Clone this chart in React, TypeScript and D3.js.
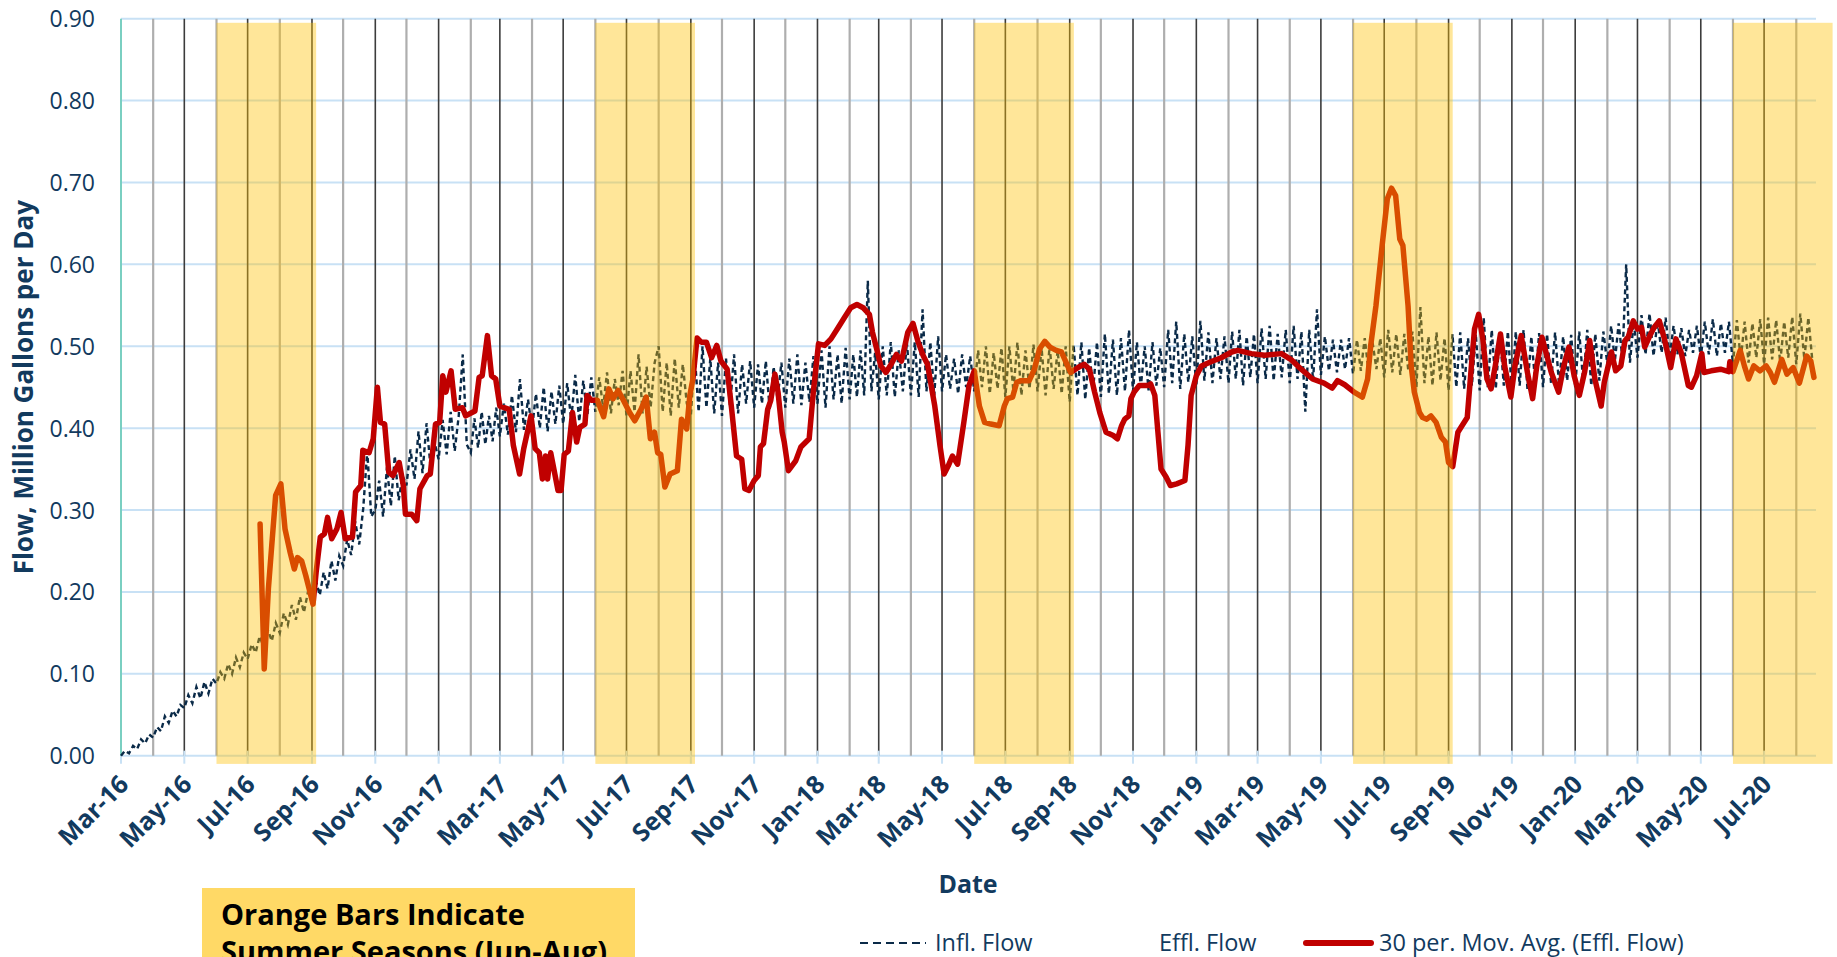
import React, { useEffect, useRef } from 'react';
import * as d3 from 'd3';

const width = 1837;
const height = 957;

const yTicks = [0, 0.1, 0.2, 0.3, 0.4, 0.5, 0.6, 0.7, 0.8, 0.9];

const xTickLabels = [
    'Mar-16', 'May-16', 'Jul-16', 'Sep-16', 'Nov-16', 'Jan-17', 'Mar-17', 'May-17', 'Jul-17',
    'Sep-17', 'Nov-17', 'Jan-18', 'Mar-18', 'May-18', 'Jul-18', 'Sep-18', 'Nov-18', 'Jan-19',
    'Mar-19', 'May-19', 'Jul-19', 'Sep-19', 'Nov-19', 'Jan-20', 'Mar-20', 'May-20', 'Jul-20',
];

// summer seasons (Jun-Aug) drawn as orange columns
const summerStarts = ['2016-06-01', '2017-06-01', '2018-06-01', '2019-06-01', '2020-06-01'];
const summerEnds = ['2016-09-05', '2017-09-05', '2018-09-05', '2019-09-05', '2020-09-05'];
const summerTop = 0.895;
const summerBottom = -0.01;

// Infl. Flow, 8 readings per month
const inflow2016 = [
    0.000, 0.006, 0.003, 0.012, 0.008, 0.020, 0.015, 0.026,
    0.022, 0.035, 0.030, 0.048, 0.040, 0.055, 0.048, 0.062,
    0.058, 0.074, 0.064, 0.084, 0.070, 0.090, 0.076, 0.094,
    0.088, 0.102, 0.094, 0.112, 0.100, 0.120, 0.108, 0.126,
    0.118, 0.136, 0.126, 0.146, 0.132, 0.154, 0.140, 0.162,
    0.150, 0.174, 0.160, 0.184, 0.166, 0.194, 0.175, 0.200,
    0.188, 0.214, 0.196, 0.224, 0.204, 0.238, 0.214, 0.244,
    0.232, 0.264, 0.245, 0.286, 0.258, 0.302, 0.372, 0.292,
    0.300, 0.336, 0.292, 0.352, 0.305, 0.366, 0.312, 0.342,
    0.330, 0.374, 0.338, 0.396, 0.345, 0.406, 0.352, 0.382,
];
const inflow2017 = [
    0.362, 0.410, 0.368, 0.420, 0.372, 0.415, 0.490, 0.380,
    0.370, 0.412, 0.376, 0.420, 0.380, 0.415, 0.384, 0.425,
    0.390, 0.430, 0.392, 0.440, 0.395, 0.460, 0.398, 0.435,
    0.398, 0.442, 0.400, 0.450, 0.396, 0.445, 0.405, 0.452,
    0.405, 0.455, 0.410, 0.465, 0.408, 0.458, 0.415, 0.462,
    0.420, 0.462, 0.425, 0.468, 0.418, 0.460, 0.428, 0.470,
    0.415, 0.470, 0.420, 0.490, 0.418, 0.475, 0.425, 0.480,
    0.500, 0.420, 0.480, 0.415, 0.485, 0.425, 0.478, 0.430,
    0.415, 0.490, 0.420, 0.500, 0.425, 0.485, 0.418, 0.480,
    0.415, 0.485, 0.425, 0.490, 0.418, 0.478, 0.430, 0.482,
    0.425, 0.478, 0.430, 0.482, 0.422, 0.475, 0.435, 0.480,
    0.425, 0.485, 0.430, 0.490, 0.428, 0.480, 0.432, 0.488,
];
const inflow2018 = [
    0.430, 0.495, 0.425, 0.500, 0.435, 0.490, 0.430, 0.498,
    0.435, 0.490, 0.438, 0.495, 0.440, 0.580, 0.445, 0.492,
    0.435, 0.500, 0.440, 0.505, 0.438, 0.495, 0.445, 0.505,
    0.440, 0.505, 0.438, 0.545, 0.445, 0.505, 0.440, 0.512,
    0.445, 0.490, 0.448, 0.485, 0.442, 0.490, 0.450, 0.488,
    0.445, 0.495, 0.450, 0.500, 0.442, 0.492, 0.448, 0.498,
    0.438, 0.500, 0.445, 0.505, 0.440, 0.495, 0.448, 0.502,
    0.445, 0.498, 0.440, 0.500, 0.448, 0.495, 0.442, 0.500,
    0.432, 0.502, 0.440, 0.505, 0.435, 0.498, 0.445, 0.505,
    0.438, 0.515, 0.442, 0.508, 0.440, 0.510, 0.445, 0.520,
    0.445, 0.505, 0.450, 0.500, 0.446, 0.505, 0.452, 0.498,
    0.450, 0.520, 0.455, 0.530, 0.448, 0.515, 0.456, 0.512,
];
const inflow2019 = [
    0.452, 0.531, 0.458, 0.517, 0.455, 0.510, 0.460, 0.512,
    0.455, 0.518, 0.460, 0.520, 0.452, 0.512, 0.462, 0.515,
    0.455, 0.522, 0.460, 0.525, 0.458, 0.515, 0.462, 0.520,
    0.455, 0.525, 0.460, 0.518, 0.420, 0.520, 0.458, 0.545,
    0.465, 0.512, 0.470, 0.508, 0.468, 0.508, 0.472, 0.510,
    0.466, 0.508, 0.470, 0.510, 0.468, 0.505, 0.472, 0.510,
    0.462, 0.520, 0.468, 0.515, 0.465, 0.515, 0.470, 0.518,
    0.450, 0.548, 0.455, 0.512, 0.452, 0.517, 0.458, 0.510,
    0.446, 0.515, 0.450, 0.517, 0.448, 0.510, 0.452, 0.515,
    0.446, 0.535, 0.450, 0.520, 0.448, 0.515, 0.452, 0.518,
    0.446, 0.518, 0.452, 0.520, 0.448, 0.512, 0.455, 0.516,
    0.450, 0.515, 0.455, 0.517, 0.452, 0.512, 0.458, 0.514,
];
const inflow2020 = [
    0.450, 0.518, 0.456, 0.520, 0.452, 0.515, 0.458, 0.518,
    0.478, 0.525, 0.482, 0.528, 0.485, 0.600, 0.480, 0.530,
    0.486, 0.538, 0.490, 0.540, 0.488, 0.532, 0.492, 0.535,
    0.486, 0.525, 0.490, 0.522, 0.488, 0.520, 0.492, 0.525,
    0.486, 0.530, 0.490, 0.533, 0.488, 0.528, 0.492, 0.530,
    0.478, 0.532, 0.484, 0.530, 0.480, 0.528, 0.486, 0.533,
    0.478, 0.535, 0.484, 0.532, 0.480, 0.530, 0.486, 0.536,
    0.478, 0.540, 0.484, 0.535, 0.482,
];

// 30 per. Mov. Avg. (Effl. Flow)
const movingAvg: [string, number][] = [
    ['2016-07-13', 0.283], ['2016-07-17', 0.106], ['2016-07-21', 0.204], ['2016-07-28', 0.318],
    ['2016-08-02', 0.332], ['2016-08-06', 0.277], ['2016-08-11', 0.248], ['2016-08-15', 0.228],
    ['2016-08-18', 0.242], ['2016-08-22', 0.238], ['2016-08-26', 0.220], ['2016-08-30', 0.200],
    ['2016-09-02', 0.185], ['2016-09-05', 0.224], ['2016-09-09', 0.267], ['2016-09-13', 0.271],
    ['2016-09-16', 0.291], ['2016-09-20', 0.265], ['2016-09-25', 0.277], ['2016-09-29', 0.297],
    ['2016-10-03', 0.265], ['2016-10-10', 0.267], ['2016-10-13', 0.322], ['2016-10-18', 0.330],
    ['2016-10-20', 0.373], ['2016-10-26', 0.370], ['2016-10-30', 0.387], ['2016-11-03', 0.450],
    ['2016-11-06', 0.407], ['2016-11-10', 0.405], ['2016-11-14', 0.346], ['2016-11-18', 0.342],
    ['2016-11-24', 0.358], ['2016-11-28', 0.330], ['2016-11-30', 0.295], ['2016-12-06', 0.295],
    ['2016-12-11', 0.287], ['2016-12-14', 0.326], ['2016-12-21', 0.342], ['2016-12-24', 0.344],
    ['2016-12-29', 0.405], ['2017-01-02', 0.407], ['2017-01-05', 0.464], ['2017-01-08', 0.444],
    ['2017-01-13', 0.470], ['2017-01-17', 0.423], ['2017-01-24', 0.425], ['2017-01-27', 0.415],
    ['2017-02-05', 0.421], ['2017-02-09', 0.462], ['2017-02-12', 0.464], ['2017-02-17', 0.513],
    ['2017-02-21', 0.464], ['2017-02-25', 0.460], ['2017-03-01', 0.427], ['2017-03-10', 0.423],
    ['2017-03-14', 0.379], ['2017-03-20', 0.344], ['2017-03-24', 0.375], ['2017-03-31', 0.415],
    ['2017-04-04', 0.375], ['2017-04-08', 0.370], ['2017-04-11', 0.338], ['2017-04-14', 0.366],
    ['2017-04-16', 0.338], ['2017-04-19', 0.370], ['2017-04-26', 0.324], ['2017-04-29', 0.324],
    ['2017-05-02', 0.368], ['2017-05-06', 0.372], ['2017-05-10', 0.419], ['2017-05-14', 0.383],
    ['2017-05-17', 0.401], ['2017-05-22', 0.405], ['2017-05-24', 0.440], ['2017-05-28', 0.434],
    ['2017-06-03', 0.434], ['2017-06-09', 0.414], ['2017-06-14', 0.448], ['2017-06-18', 0.436],
    ['2017-06-23', 0.446], ['2017-06-28', 0.434], ['2017-07-04', 0.419], ['2017-07-09', 0.409],
    ['2017-07-15', 0.423], ['2017-07-20', 0.438], ['2017-07-24', 0.387], ['2017-07-28', 0.395],
    ['2017-07-31', 0.370], ['2017-08-03', 0.368], ['2017-08-07', 0.328], ['2017-08-12', 0.344],
    ['2017-08-19', 0.348], ['2017-08-23', 0.411], ['2017-08-28', 0.399], ['2017-08-31', 0.440],
    ['2017-09-03', 0.460], ['2017-09-07', 0.510], ['2017-09-11', 0.505], ['2017-09-16', 0.505],
    ['2017-09-21', 0.486], ['2017-09-26', 0.501], ['2017-09-30', 0.482], ['2017-10-06', 0.472],
    ['2017-10-10', 0.427], ['2017-10-15', 0.366], ['2017-10-20', 0.362], ['2017-10-23', 0.326],
    ['2017-10-27', 0.324], ['2017-11-01', 0.336], ['2017-11-05', 0.342], ['2017-11-07', 0.377],
    ['2017-11-10', 0.381], ['2017-11-14', 0.423], ['2017-11-17', 0.434], ['2017-11-21', 0.466],
    ['2017-11-24', 0.444], ['2017-11-28', 0.395], ['2017-11-30', 0.383], ['2017-12-04', 0.348],
    ['2017-12-11', 0.360], ['2017-12-16', 0.377], ['2017-12-24', 0.387], ['2017-12-28', 0.444],
    ['2018-01-02', 0.503], ['2018-01-08', 0.501], ['2018-01-14', 0.509], ['2018-01-21', 0.523],
    ['2018-01-27', 0.535], ['2018-02-02', 0.547], ['2018-02-08', 0.551], ['2018-02-14', 0.547],
    ['2018-02-20', 0.539], ['2018-02-23', 0.517], ['2018-02-27', 0.497], ['2018-03-03', 0.476],
    ['2018-03-08', 0.468], ['2018-03-13', 0.478], ['2018-03-18', 0.490], ['2018-03-23', 0.482],
    ['2018-03-29', 0.517], ['2018-04-03', 0.528], ['2018-04-08', 0.505], ['2018-04-13', 0.488],
    ['2018-04-17', 0.478], ['2018-04-24', 0.427], ['2018-04-29', 0.379], ['2018-05-03', 0.344],
    ['2018-05-07', 0.354], ['2018-05-11', 0.366], ['2018-05-16', 0.356], ['2018-05-22', 0.407],
    ['2018-05-27', 0.452], ['2018-06-01', 0.470], ['2018-06-06', 0.427], ['2018-06-11', 0.407],
    ['2018-06-17', 0.405], ['2018-06-25', 0.403], ['2018-06-30', 0.427], ['2018-07-03', 0.436],
    ['2018-07-08', 0.438], ['2018-07-12', 0.456], ['2018-07-16', 0.458], ['2018-07-24', 0.458],
    ['2018-07-29', 0.472], ['2018-08-03', 0.497], ['2018-08-08', 0.506], ['2018-08-13', 0.499],
    ['2018-08-19', 0.495], ['2018-08-24', 0.493], ['2018-08-30', 0.476], ['2018-09-02', 0.468],
    ['2018-09-09', 0.474], ['2018-09-15', 0.478], ['2018-09-20', 0.472], ['2018-09-25', 0.444],
    ['2018-09-30', 0.419], ['2018-10-06', 0.395], ['2018-10-13', 0.391], ['2018-10-17', 0.387],
    ['2018-10-21', 0.403], ['2018-10-24', 0.411], ['2018-10-28', 0.415], ['2018-10-30', 0.436],
    ['2018-11-02', 0.444], ['2018-11-07', 0.452], ['2018-11-15', 0.452], ['2018-11-18', 0.454],
    ['2018-11-22', 0.440], ['2018-11-25', 0.395], ['2018-11-28', 0.350], ['2018-12-03', 0.340],
    ['2018-12-07', 0.330], ['2018-12-13', 0.332], ['2018-12-21', 0.336], ['2018-12-24', 0.379],
    ['2018-12-27', 0.440], ['2019-01-01', 0.464], ['2019-01-06', 0.476], ['2019-01-15', 0.481],
    ['2019-01-25', 0.486], ['2019-02-04', 0.493], ['2019-02-10', 0.495], ['2019-02-23', 0.491],
    ['2019-03-08', 0.489], ['2019-03-24', 0.491], ['2019-04-02', 0.484], ['2019-04-12', 0.472],
    ['2019-04-23', 0.460], ['2019-05-04', 0.455], ['2019-05-12', 0.449], ['2019-05-17', 0.458],
    ['2019-05-24', 0.453], ['2019-06-02', 0.444], ['2019-06-10', 0.438], ['2019-06-15', 0.460],
    ['2019-06-18', 0.501], ['2019-06-23', 0.549], ['2019-06-29', 0.623], ['2019-07-04', 0.680],
    ['2019-07-08', 0.693], ['2019-07-12', 0.684], ['2019-07-16', 0.631], ['2019-07-19', 0.623],
    ['2019-07-24', 0.549], ['2019-07-27', 0.476], ['2019-07-30', 0.444], ['2019-08-04', 0.419],
    ['2019-08-07', 0.413], ['2019-08-11', 0.411], ['2019-08-15', 0.415], ['2019-08-20', 0.407],
    ['2019-08-25', 0.389], ['2019-08-29', 0.383], ['2019-09-01', 0.358], ['2019-09-05', 0.353],
    ['2019-09-10', 0.395], ['2019-09-15', 0.405], ['2019-09-19', 0.413], ['2019-09-23', 0.476],
    ['2019-09-26', 0.521], ['2019-09-30', 0.539], ['2019-10-04', 0.509], ['2019-10-08', 0.460],
    ['2019-10-12', 0.448], ['2019-10-16', 0.476], ['2019-10-21', 0.515], ['2019-10-25', 0.476],
    ['2019-10-31', 0.438], ['2019-11-04', 0.476], ['2019-11-10', 0.513], ['2019-11-16', 0.468],
    ['2019-11-21', 0.436], ['2019-11-25', 0.476], ['2019-11-30', 0.511], ['2019-12-09', 0.468],
    ['2019-12-16', 0.444], ['2019-12-21', 0.476], ['2019-12-26', 0.499], ['2019-12-31', 0.464],
    ['2020-01-05', 0.440], ['2020-01-10', 0.468], ['2020-01-15', 0.507], ['2020-01-20', 0.460],
    ['2020-01-26', 0.427], ['2020-01-29', 0.456], ['2020-02-05', 0.493], ['2020-02-09', 0.470],
    ['2020-02-14', 0.476], ['2020-02-18', 0.507], ['2020-02-21', 0.511], ['2020-02-26', 0.531],
    ['2020-03-01', 0.521], ['2020-03-05', 0.523], ['2020-03-08', 0.499], ['2020-03-13', 0.513],
    ['2020-03-17', 0.523], ['2020-03-22', 0.531], ['2020-03-27', 0.509], ['2020-04-02', 0.474],
    ['2020-04-07', 0.509], ['2020-04-12', 0.493], ['2020-04-19', 0.452], ['2020-04-22', 0.450],
    ['2020-04-27', 0.464], ['2020-05-02', 0.491], ['2020-05-04', 0.468], ['2020-05-11', 0.470],
    ['2020-05-20', 0.472], ['2020-05-28', 0.469], ['2020-05-29', 0.481], ['2020-06-01', 0.469],
    ['2020-06-08', 0.495], ['2020-06-12', 0.476], ['2020-06-16', 0.460], ['2020-06-21', 0.476],
    ['2020-06-27', 0.470], ['2020-07-03', 0.476], ['2020-07-07', 0.468], ['2020-07-11', 0.456],
    ['2020-07-18', 0.484], ['2020-07-23', 0.466], ['2020-07-29', 0.474], ['2020-08-04', 0.455],
    ['2020-08-11', 0.488], ['2020-08-15', 0.482], ['2020-08-18', 0.462],
];

const parseDay = d3.timeParse('%Y-%m-%d');
const parseMonth = d3.timeParse('%b-%y');

function monthly(year: number, firstMonth: number, values: number[]) {
    return values.map((v, i) => {
        const m = firstMonth + Math.floor(i / 8);
        const start = new Date(year, m, 1).getTime();
        const end = new Date(year, m + 1, 1).getTime();
        return { date: new Date(start + ((end - start) * (i % 8)) / 8), value: v };
    });
}

const font = "'Open Sans', 'DejaVu Sans', sans-serif";
const navy = '#123A5E';

function FlowChart() {
    const ref = useRef<SVGSVGElement>(null);

    useEffect(() => {
        drawChart();
    }, []);

    function drawChart() {
        const svg = d3.select(ref.current);
        svg.selectAll('*').remove();

        const x = d3
            .scaleTime()
            .domain([parseDay('2016-03-01')!, parseDay('2020-08-20')!])
            .range([121, 1816]);
        const y = d3.scaleLinear().domain([0, 0.9]).range([755.7, 18.7]);
        const [x0, x1] = x.range();

        // horizontal gridlines
        svg.append('g')
            .selectAll('line')
            .data(yTicks)
            .enter()
            .append('line')
            .attr('x1', x0)
            .attr('x2', x1)
            .attr('y1', (d) => y(d))
            .attr('y2', (d) => y(d))
            .style('stroke', '#C8E1F5')
            .style('stroke-width', 2);

        // monthly vertical lines, dark on labelled months
        const months = d3.timeMonths(new Date(2016, 3, 1), new Date(2020, 7, 2));
        svg.append('g')
            .selectAll('line')
            .data(months)
            .enter()
            .append('line')
            .attr('x1', (d) => x(d))
            .attr('x2', (d) => x(d))
            .attr('y1', y(0.9))
            .attr('y2', y(0))
            .style('stroke', (d) => (d.getMonth() % 2 === 0 ? '#3C3C3C' : '#AEAEAE'))
            .style('stroke-width', (d) => (d.getMonth() % 2 === 0 ? 1.6 : 2.2));

        // x tick marks
        const tickDates = xTickLabels.map((s) => parseMonth(s)!);
        svg.append('g')
            .selectAll('line')
            .data(tickDates)
            .enter()
            .append('line')
            .attr('x1', (d) => x(d))
            .attr('x2', (d) => x(d))
            .attr('y1', y(0) - 5)
            .attr('y2', y(0) + 8)
            .style('stroke', '#C8E1F5')
            .style('stroke-width', 2);

        // y axis line
        svg.append('line')
            .attr('x1', x0)
            .attr('x2', x0)
            .attr('y1', y(0.9))
            .attr('y2', y(0))
            .style('stroke', '#7ACFC1')
            .style('stroke-width', 2);

        // Infl. Flow
        const inflow = [
            ...monthly(2016, 2, inflow2016),
            ...monthly(2017, 0, inflow2017),
            ...monthly(2018, 0, inflow2018),
            ...monthly(2019, 0, inflow2019),
            ...monthly(2020, 0, inflow2020),
        ];
        const line = d3
            .line<{ date: Date; value: number }>()
            .x((d) => x(d.date))
            .y((d) => y(d.value));

        svg.append('path')
            .attr('d', line(inflow))
            .style('fill', 'none')
            .style('stroke', '#0A2A48')
            .style('stroke-width', 2.4)
            .style('stroke-dasharray', '5,3.5');

        // moving average
        const ma = movingAvg.map(([d, v]) => ({ date: parseDay(d)!, value: v }));
        svg.append('path')
            .attr('d', line(ma))
            .style('fill', 'none')
            .style('stroke', '#C00000')
            .style('stroke-width', 5.5)
            .style('stroke-linejoin', 'round')
            .style('stroke-linecap', 'round');

        // summer columns on top, translucent
        svg.append('g')
            .selectAll('rect')
            .data(summerStarts)
            .enter()
            .append('rect')
            .attr('x', (d) => x(parseDay(d)!))
            .attr('width', (d, i) => x(parseDay(summerEnds[i])!) - x(parseDay(d)!))
            .attr('y', y(summerTop))
            .attr('height', y(summerBottom) - y(summerTop))
            .style('fill', '#FFC000')
            .style('opacity', 0.4);

        // y tick labels
        svg.append('g')
            .selectAll('text')
            .data(yTicks)
            .enter()
            .append('text')
            .attr('x', 95)
            .attr('y', (d) => y(d) + 8.5)
            .attr('text-anchor', 'end')
            .style('font-family', font)
            .style('font-size', '23px')
            .style('fill', navy)
            .text((d) => d.toFixed(2));

        // x tick labels
        svg.append('g')
            .selectAll('text')
            .data(tickDates)
            .enter()
            .append('text')
            .attr('text-anchor', 'end')
            .attr('transform', (d) => `translate(${x(d) + 9}, 786)rotate(-45)`)
            .style('font-family', font)
            .style('font-size', '25px')
            .style('font-weight', 'bold')
            .style('fill', navy)
            .text((_, i) => xTickLabels[i]);

        // axis titles
        svg.append('text')
            .attr('transform', `translate(33, ${(y(0) + y(0.9)) / 2})rotate(-90)`)
            .attr('text-anchor', 'middle')
            .style('font-family', font)
            .style('font-size', '26px')
            .style('font-weight', 'bold')
            .style('fill', navy)
            .text('Flow, Million Gallons per Day');

        svg.append('text')
            .attr('x', 968)
            .attr('y', 893)
            .attr('text-anchor', 'middle')
            .style('font-family', font)
            .style('font-size', '25px')
            .style('font-weight', 'bold')
            .style('fill', navy)
            .text('Date');

        // note box (cut by the bottom edge, as in the source)
        svg.append('rect')
            .attr('x', 202)
            .attr('y', 888)
            .attr('width', 433)
            .attr('height', 80)
            .style('fill', '#FFD966');
        const note = svg.append('text')
            .style('font-family', font)
            .style('font-size', '29px')
            .style('font-weight', 'bold')
            .style('fill', '#000000');
        note.append('tspan').attr('x', 221).attr('y', 925).text('Orange Bars Indicate');
        note.append('tspan').attr('x', 221).attr('y', 962).text('Summer Seasons (Jun-Aug)');

        // legend
        const legend = svg.append('g').style('font-family', font).style('font-size', '23.5px');
        legend.append('line')
            .attr('x1', 860).attr('x2', 926).attr('y1', 943).attr('y2', 943)
            .style('stroke', '#0A2A48').style('stroke-width', 2).style('stroke-dasharray', '8,5');
        legend.append('text').attr('x', 935).attr('y', 951).style('fill', navy).text('Infl. Flow');
        legend.append('text').attr('x', 1159).attr('y', 951).style('fill', navy).text('Effl. Flow');
        legend.append('line')
            .attr('x1', 1306).attr('x2', 1371).attr('y1', 943).attr('y2', 943)
            .style('stroke', '#C00000').style('stroke-width', 6).style('stroke-linecap', 'round');
        legend.append('text').attr('x', 1379).attr('y', 951).style('fill', navy)
            .text('30 per. Mov. Avg. (Effl. Flow)');
    }

    return (
        <svg
            ref={ref}
            width={width}
            height={height}
            style={{ position: 'absolute', left: 0, top: 0, background: '#ffffff' }}
        />
    );
}

export default function App() {
    return <FlowChart />;
}
